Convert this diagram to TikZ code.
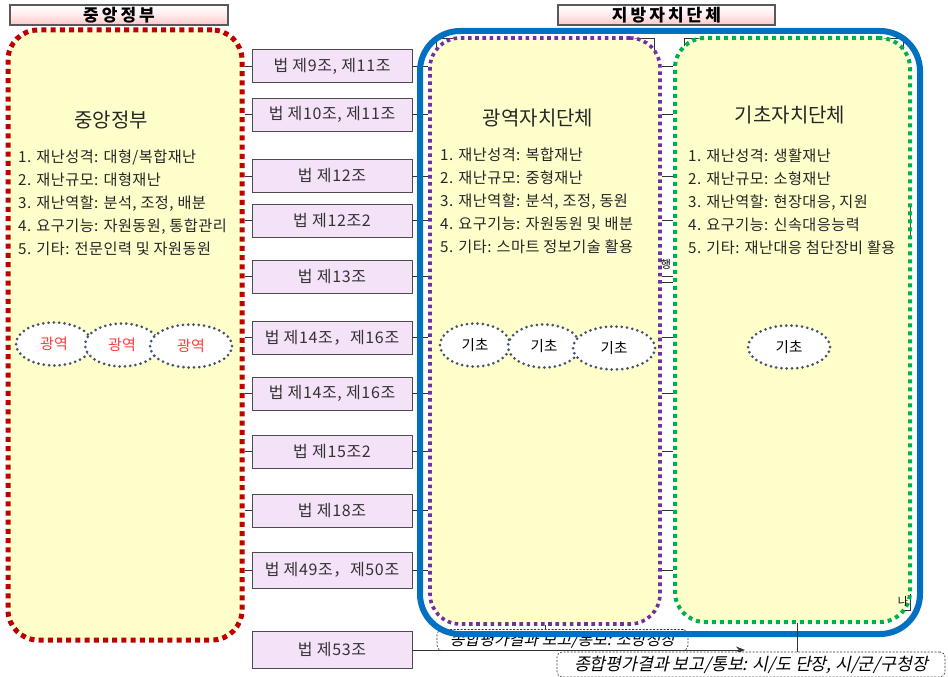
\documentclass[tikz,border=0pt]{standalone}
\usepackage{fontspec}
\setmainfont{Noto Sans CJK KR}
\newfontfamily\krit[FakeSlant=0.22]{Noto Sans CJK KR}
\newfontfamily\krwide[LetterSpace=18]{Noto Sans CJK KR}
\newfontfamily\krlaw[LetterSpace=4]{Noto Sans CJK KR}
\newfontfamily\krlist[LetterSpace=3]{Noto Sans CJK KR}
\usetikzlibrary{arrows.meta,shapes.geometric}
\definecolor{yel}{HTML}{FFFFCC}
\definecolor{lawfill}{HTML}{F4E2F8}
\definecolor{redd}{HTML}{C00000}
\definecolor{purp}{HTML}{7030A0}
\definecolor{grn}{HTML}{00B050}
\definecolor{blu}{HTML}{0070C0}
\definecolor{ellc}{HTML}{44546A}
\definecolor{redtxt}{HTML}{FF3B3B}
\tikzset{
  lawbox/.style={draw=black!70, line width=0.9pt, fill=lawfill, minimum width=160pt, minimum height=33pt, inner sep=0pt, font=\krlaw\fontsize{16}{17}\selectfont, text=black!80},
  hdrbox/.style={draw=black!65, line width=1.6pt, top color=white, bottom color=red!22, middle color=red!8, minimum height=20pt, inner sep=0pt, font=\krwide\bfseries\fontsize{17}{17}\selectfont},
  bigbox/.style={rounded corners=30pt, fill=yel, inner sep=0pt},
  listtxt/.style={align=left, inner sep=0pt, anchor=north west, font=\krlist\fontsize{15.2}{22.8}\selectfont, text=black!85},
  titletxt/.style={inner sep=0pt, font=\fontsize{20}{22}\selectfont, text=black!85},
  oval/.style={ellipse, draw=ellc, fill=white, line width=3pt, dash pattern=on 0pt off 5.3pt, line cap=round, inner sep=0pt, minimum height=43pt},
  conn/.style={draw=black!80, line width=0.8pt},
  lbl/.style={draw=black!80, dash pattern=on 2pt off 1.5pt, line width=0.6pt, rounded corners=5pt, fill=white, inner sep=0pt}
}
\begin{document}
\begin{tikzpicture}[x=1pt,y=-1pt]
\useasboundingbox[fill=white] (0,0) rectangle (948,677);

% headers
\node[hdrbox, minimum width=218pt] (hdr1) at (119,15) {중앙정부};
\node[hdrbox, minimum width=217pt] (hdr2) at (666.5,15) {지방자치단체};

% bottom label 1 (partly hidden by the blue frame)
\node[lbl, minimum width=251pt, minimum height=21pt] (lab1) at (562.5,640) {\krit\fontsize{16}{16}\selectfont 종합평가결과 보고/통보: 소방청장};

% central government box
\node[bigbox, minimum width=234pt, minimum height=610pt, draw=redd, line width=5pt, dash pattern=on 5pt off 4.2pt] (cen) at (125,335) {};

% hidden rectangle artefacts
\draw[black!80, line width=0.8pt] (436,48) -- (436,38) -- (654,38) -- (654,52);
\draw[black!80, line width=0.8pt] (684,48) -- (684,38) -- (903,38) -- (903,52);
\draw[black!80, line width=0.8pt] (649,607) -- (655,607) -- (655,596);
\draw[black!80, line width=0.8pt] (903,207) -- (910,207) -- (910,238) -- (903,238);
\draw[black!80, line width=0.8pt] (896,610) -- (910,610) -- (910,594) -- (903,594);

% law boxes
\node[lawbox] (l1)  at (332,66)    {법 제9조, 제11조};
\node[lawbox] (l2)  at (332,114.5) {법 제10조, 제11조};
\node[lawbox] (l3)  at (332,176)   {법 제12조};
\node[lawbox] (l4)  at (332,220.5) {법 제12조2};
\node[lawbox] (l5)  at (332,276.5) {법 제13조};
\node[lawbox] (l6)  at (332,337.5) {법 제14조，제16조};
\node[lawbox] (l7)  at (332,393.5) {법 제14조, 제16조};
\node[lawbox] (l8)  at (332,451.5) {법 제15조2};
\node[lawbox] (l9)  at (332,510.5) {법 제18조};
\node[lawbox, minimum height=36pt] (l10) at (332,570) {법 제49조，제50조};
\node[lawbox, minimum height=37pt] (l11) at (332,650) {법 제53조};

% regional / basic boxes
\node[bigbox, minimum width=230pt, minimum height=586pt, draw=purp, line width=3.6pt, dash pattern=on 3.6pt off 3.6pt] (wide) at (545,331) {};
\node[bigbox, minimum width=235pt, minimum height=584pt, draw=grn, line width=4pt, dash pattern=on 4pt off 4pt] (basic) at (792.5,330) {};

% connectors
\foreach \n in {l1,l2,l3,l4,l5,l6,l7,l8,l9,l10}{
  \draw[conn] (cen.east |- \n.west) -- (\n.west);
  \draw[conn] (\n.east) -- (wide.west |- \n.east);
  \draw[conn] (wide.east |- \n.east) -- (basic.west |- \n.east);
}
\draw[conn] (wide.east |- 0,282) -- (basic.west |- 0,282);
\node[inner sep=0pt, font=\fontsize{11}{11}\selectfont] (haeng) at (666,264) {행};

% blue frame
\node[draw=blu, line width=6pt, rounded corners=40pt, minimum width=500pt, minimum height=603pt, inner sep=0pt] (local) at (670,332.5) {};

% titles and lists
\node[titletxt] (t1) at (111,120) {중앙정부};
\node[titletxt] (t2) at (538,118) {광역자치단체};
\node[titletxt] (t3) at (790,115) {기초자치단체};

\node[listtxt] (list1) at (18,150) {1. 재난성격: 대형/복합재난\\2. 재난규모: 대형재난\\3. 재난역할: 분석, 조정, 배분\\4. 요구기능: 자원동원, 통합관리\\5. 기타: 전문인력 및 자원동원};
\node[listtxt] (list2) at (440,148) {1. 재난성격: 복합재난\\2. 재난규모: 중형재난\\3. 재난역할: 분석, 조정, 동원\\4. 요구기능: 자원동원 및 배분\\5. 기타: 스마트 정보기술 활용};
\node[listtxt] (list3) at (688,149) {1. 재난성격: 생활재난\\2. 재난규모: 소형재난\\3. 재난역할: 현장대응, 지원\\4. 요구기능: 신속대응능력\\5. 기타: 재난대응 첨단장비 활용};

% ovals
\node[oval, minimum width=76pt, text=redtxt, font=\fontsize{15}{15}\selectfont] (g1) at (54,344) {광역};
\node[oval, minimum width=74pt, text=redtxt, font=\fontsize{15}{15}\selectfont] (g2) at (122,345) {광역};
\node[oval, minimum width=82pt, text=redtxt, font=\fontsize{15}{15}\selectfont] (g3) at (191,346) {광역};

\node[oval, minimum width=70pt, font=\fontsize{14.5}{15}\selectfont] (k1) at (475,345) {기초};
\node[oval, minimum width=72pt, font=\fontsize{14.5}{15}\selectfont] (k2) at (544,346) {기초};
\node[oval, minimum width=82pt, font=\fontsize{14.5}{15}\selectfont] (k3) at (614,348) {기초};
\node[oval, minimum width=82pt, font=\fontsize{14.5}{15}\selectfont] (k4) at (789,347) {기초};

% bottom connections
\coordinate (arrend) at (745,650);
\draw[conn, -{Stealth[length=9pt,width=7pt]}] (l11.east) -- (arrend);
\node[lbl, minimum width=388pt, minimum height=25pt] (lab2) at (751,664.5) {\krit\fontsize{17.2}{17}\selectfont 종합평가결과 보고/통보: 시/도 단장, 시/군/구청장};
\coordinate (vtop) at (797,623);
\draw[conn] (vtop) -- (vtop |- lab2.north);
\coordinate (ptop) at (545,625);
\draw[conn] (ptop) -- (ptop |- lab1.north);
\node[inner sep=0pt, font=\fontsize{11}{11}\selectfont] (na) at (903,601) {나};
\end{tikzpicture}
\end{document}
